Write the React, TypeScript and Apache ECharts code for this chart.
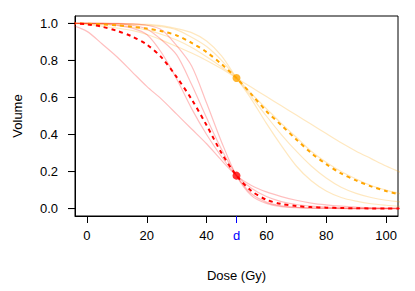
import React, { useEffect, useRef } from "react";
import * as echarts from "echarts";

const doses = [-5, 0, 5, 10, 15, 20, 25, 30, 35, 40, 45, 50, 55, 60, 65, 70, 75, 80, 85, 90, 95, 100, 105];

// Red family (light individual curves + dashed mean)
const red1 = [0.99, 0.957, 0.89, 0.82, 0.74, 0.66, 0.59, 0.51, 0.43, 0.35, 0.26, 0.178, 0.125, 0.09, 0.065, 0.045, 0.03, 0.02, 0.013, 0.008, 0.005, 0.003, 0.002];
const red2 = [1.0, 1.0, 0.997, 0.99, 0.975, 0.94, 0.84, 0.7, 0.54, 0.4, 0.28, 0.178, 0.11, 0.065, 0.038, 0.022, 0.013, 0.008, 0.005, 0.003, 0.002, 0.001, 0.001];
const red3 = [1.0, 1.0, 1.0, 0.998, 0.99, 0.97, 0.91, 0.83, 0.67, 0.49, 0.32, 0.178, 0.08, 0.035, 0.015, 0.007, 0.003, 0.002, 0.001, 0, 0, 0, 0];
const red4 = [1.0, 1.0, 1.0, 1.0, 0.998, 0.99, 0.965, 0.88, 0.77, 0.57, 0.36, 0.178, 0.07, 0.028, 0.011, 0.005, 0.002, 0.001, 0, 0, 0, 0, 0];
const redMean = [1.0, 0.995, 0.982, 0.96, 0.93, 0.886, 0.815, 0.71, 0.59, 0.45, 0.3, 0.178, 0.095, 0.048, 0.025, 0.014, 0.008, 0.005, 0.003, 0.002, 0.001, 0.001, 0.0];

// Orange family
const orange1 = [1.0, 0.995, 0.985, 0.975, 0.962, 0.94, 0.91, 0.875, 0.84, 0.8, 0.755, 0.705, 0.655, 0.605, 0.555, 0.505, 0.455, 0.405, 0.355, 0.31, 0.27, 0.23, 0.195];
const orange2 = [1.0, 0.998, 0.995, 0.99, 0.98, 0.965, 0.94, 0.91, 0.87, 0.82, 0.765, 0.705, 0.62, 0.54, 0.46, 0.385, 0.31, 0.25, 0.2, 0.16, 0.125, 0.1, 0.08];
const orange3 = [1.0, 1.0, 0.999, 0.998, 0.995, 0.99, 0.982, 0.965, 0.925, 0.875, 0.8, 0.705, 0.605, 0.5, 0.4, 0.31, 0.23, 0.165, 0.115, 0.082, 0.06, 0.045, 0.036];
const orange4 = [1.0, 1.0, 1.0, 0.999, 0.998, 0.995, 0.988, 0.972, 0.95, 0.905, 0.825, 0.705, 0.59, 0.46, 0.34, 0.23, 0.15, 0.095, 0.06, 0.04, 0.026, 0.018, 0.012];
const orangeMean = [1.0, 0.998, 0.995, 0.99, 0.982, 0.972, 0.958, 0.935, 0.895, 0.845, 0.78, 0.705, 0.617, 0.526, 0.45, 0.373, 0.3, 0.24, 0.19, 0.152, 0.12, 0.095, 0.075];

// Highlighted points at dose d
const markDose = 50;
const markLabel = "d";
const redPointValue = 0.178;
const orangePointValue = 0.705;

// Axes and ticks
const xMin = -4;
const xMax = 104;
const yMin = -0.04;
const yMax = 1.04;
const xTicks = [0, 20, 40, 60, 80, 100];
const yTicks = [0, 0.2, 0.4, 0.6, 0.8, 1.0];
const xTitle = "Dose (Gy)";
const yTitle = "Volume";

const FONT = "'Liberation Sans', Arial, Helvetica, sans-serif";

export default function App() {
  const ref = useRef<HTMLDivElement>(null);

  useEffect(() => {
    document.body.style.margin = "0";
    const chart = echarts.init(ref.current as HTMLDivElement, null, { renderer: "svg" });
    const pair = (ys: number[]) => doses.map((d, i) => [d, ys[i]]);
    const light = (ys: number[], color: string) => ({
      type: "line",
      data: pair(ys),
      smooth: 0.3,
      symbol: "none",
      clip: true,
      silent: true,
      z: 2,
      lineStyle: { color, width: 1.2 },
    });
    const mean = (ys: number[], color: string) => ({
      type: "line",
      data: pair(ys),
      smooth: 0.3,
      symbol: "none",
      clip: true,
      silent: true,
      z: 3,
      lineStyle: { color, width: 2, type: [4, 4] },
    });
    const PINK = "rgba(255,0,0,0.25)";
    const LORANGE = "rgba(255,165,0,0.25)";

    chart.setOption({
      animation: false,
      grid: {
        left: 75,
        top: 16,
        right: 17,
        bottom: 75,
        show: true,
        borderColor: "#000",
        borderWidth: 1,
        backgroundColor: "transparent",
      },
      xAxis: [
        {
          type: "value",
          min: xMin,
          max: xMax,
          axisLine: { show: true, onZero: false, lineStyle: { color: "#000", width: 1 } },
          splitLine: { show: false },
          axisTick: { show: true, inside: false, length: 7, customValues: xTicks, lineStyle: { color: "#000", width: 1 } },
          axisLabel: { customValues: xTicks, margin: 13, color: "#000", fontSize: 13, fontFamily: FONT },
        },
        {
          type: "value",
          min: xMin,
          max: xMax,
          position: "bottom",
          axisLine: { show: false, onZero: false },
          splitLine: { show: false },
          axisTick: { show: true, inside: false, length: 7, customValues: [markDose], lineStyle: { color: "#0000ff", width: 1 } },
          axisLabel: {
            customValues: [markDose],
            formatter: () => markLabel,
            margin: 13,
            color: "#0000ff",
            fontSize: 13,
            fontFamily: FONT,
          },
        },
      ],
      yAxis: {
        type: "value",
        min: yMin,
        max: yMax,
        position: "left",
        axisLine: { show: true, onZero: false, lineStyle: { color: "#000", width: 1 } },
        splitLine: { show: false },
        axisTick: { show: true, inside: false, length: 7, customValues: yTicks, lineStyle: { color: "#000", width: 1 } },
        axisLabel: {
          customValues: yTicks,
          formatter: (v: number) => v.toFixed(1),
          margin: 17,
          color: "#000",
          fontSize: 13,
          fontFamily: FONT,
        },
      },
      graphic: [
        {
          type: "text",
          x: 17.5,
          y: 116,
          rotation: Math.PI / 2,
          style: { text: yTitle, fill: "#000", fontSize: 13, fontFamily: FONT, align: "center", verticalAlign: "middle" },
        },
        {
          type: "text",
          x: 236.5,
          y: 275,
          style: { text: xTitle, fill: "#000", fontSize: 13, fontFamily: FONT, align: "center", verticalAlign: "middle" },
        },
      ],
      series: [
        light(orange1, LORANGE),
        light(orange2, LORANGE),
        light(orange3, LORANGE),
        light(orange4, LORANGE),
        light(red1, PINK),
        light(red2, PINK),
        light(red3, PINK),
        light(red4, PINK),
        mean(orangeMean, "#FFA500"),
        mean(redMean, "#FF0000"),
        {
          type: "scatter",
          data: [[markDose, orangePointValue]],
          symbol: "circle",
          symbolSize: 8,
          itemStyle: { color: "#FFA500" },
          z: 4,
          silent: true,
        },
        {
          type: "scatter",
          data: [[markDose, redPointValue]],
          symbol: "circle",
          symbolSize: 8,
          itemStyle: { color: "#FF0000" },
          z: 4,
          silent: true,
        },
        {
          // y-axis tick marks, placed through the axis scale
          type: "custom",
          clip: false,
          silent: true,
          z: 5,
          data: yTicks.map((v) => [xMin, v]),
          renderItem: (_params: any, api: any) => {
            const p = api.coord([api.value(0), api.value(1)]);
            return {
              type: "line",
              shape: { x1: p[0] - 7, y1: p[1], x2: p[0], y2: p[1] },
              style: { stroke: "#000", lineWidth: 1 },
            };
          },
        },
      ],
    });
    return () => chart.dispose();
  }, []);

  return <div ref={ref} style={{ width: 415, height: 291 }} />;
}
